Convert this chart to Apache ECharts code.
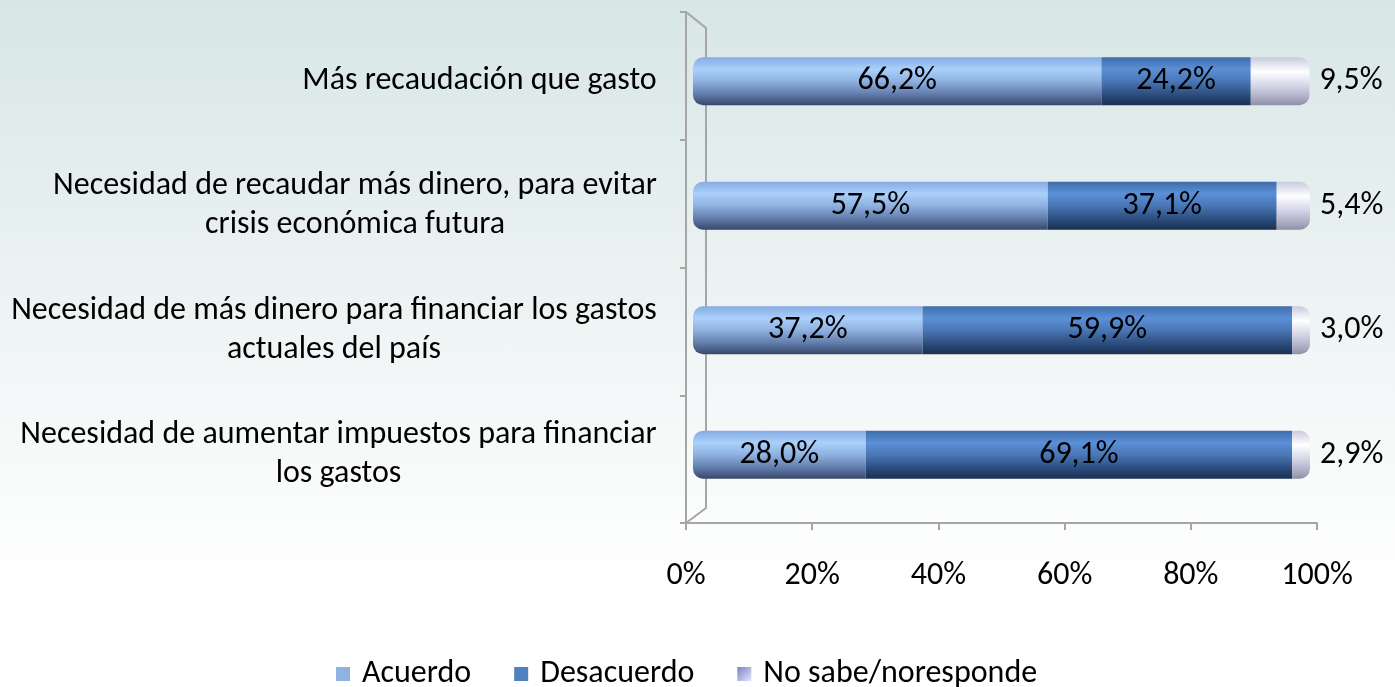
<!DOCTYPE html>
<html><head><meta charset="utf-8">
<script src="https://cdn.jsdelivr.net/npm/echarts@6/dist/echarts.min.js"></script>
<style>
html,body{margin:0;padding:0;}
body{background:linear-gradient(to bottom,#d8e6e6 0%,#e6efef 30%,#f5f8f8 60%,#ffffff 85%);}
#c{width:1395px;height:687px;}
</style></head>
<body><div id="c"></div>
<script>
const categories = [
  'Más recaudación que gasto',
  'Necesidad de recaudar más dinero, para evitar\ncrisis económica futura',
  'Necesidad de más dinero para financiar los gastos\nactuales del país',
  'Necesidad de aumentar impuestos para financiar\nlos gastos'
];
const acuerdo = [66.2, 57.5, 37.2, 28.0];
const desacuerdo = [24.2, 37.1, 59.9, 69.1];
const noSabe = [9.5, 5.4, 3.0, 2.9];
const seriesNames = ['Acuerdo', 'Desacuerdo', 'No sabe/noresponde'];
const xTicks = [0, 20, 40, 60, 80, 100];

const FONT = "Carlito, 'Open Sans', sans-serif";
const FS = 32;
const fmt = v => v.toFixed(1).replace('.', ',') + '%';
const vgrad = (stops) => new echarts.graphic.LinearGradient(0, 0, 0, 1, stops.map((c) => ({offset: c[0], color: c[1]})));

// measure widest line of each category so lines can be centred inside a right-aligned block
const cv = document.createElement('canvas').getContext('2d');
cv.font = FS + 'px ' + FONT;
const rich = {};
categories.forEach((c, i) => {
  const w = Math.ceil(Math.max(...c.split('\n').map(l => cv.measureText(l).width)));
  rich['c' + i] = {width: w, align: 'center', fontSize: FS, lineHeight: 39, color: '#000', fontFamily: FONT};
});

const cAcuerdo = vgrad([[0,'#85abe3'],[0.25,'#aad0fb'],[0.5,'#8fb1e0'],[0.78,'#5f7aa8'],[1,'#374868']]);
const cDes = vgrad([[0,'#3f6daa'],[0.25,'#5b8fd7'],[0.5,'#4a77b6'],[0.8,'#2a4a7a'],[1,'#1b2f50']]);
const cNo = vgrad([[0,'#c9cade'],[0.3,'#ffffff'],[0.6,'#d4d4e8'],[0.9,'#a2a2ba'],[1,'#8e8ea6']]);

const chart = echarts.init(document.getElementById('c'), null, {renderer: 'canvas'});
chart.setOption({
  backgroundColor: 'transparent',
  animation: false,
  textStyle: {fontFamily: FONT},
  grid: [
    {left: 693, right: 85, top: 19, height: 498, containLabel: false},
    {left: 686, right: 78, top: 12, height: 511, containLabel: false}
  ],
  legend: {
    top: 658, left: 336, itemWidth: 14, itemHeight: 14, itemGap: 43, icon: 'rect', padding: 0,
    textStyle: {fontSize: FS, color: '#000', fontFamily: FONT, padding: [0, 0, 0, 7]},
    data: [
      {name: seriesNames[0], itemStyle: {color: '#8db3e2'}},
      {name: seriesNames[1], itemStyle: {color: '#4f81bd'}},
      {name: seriesNames[2], itemStyle: {color: new echarts.graphic.LinearGradient(0,0,1,1,[{offset:0,color:'#8080c0'},{offset:1,color:'#e0e6ff'}])}}
    ]
  },
  xAxis: [
    {gridIndex: 0, type: 'value', min: 0, max: 100, show: false},
    {gridIndex: 1, type: 'value', min: 0, max: 100, interval: 20,
      axisLine: {show: true, lineStyle: {color: '#a6a6a6', width: 2}},
      axisTick: {show: true, length: 7, lineStyle: {color: '#a6a6a6', width: 2}},
      splitLine: {show: false},
      axisLabel: {margin: 37, fontSize: FS, color: '#000', fontFamily: FONT, formatter: v => v + '%'}
    }
  ],
  yAxis: [
    {gridIndex: 0, type: 'category', data: categories, inverse: true,
      axisLine: {show: false}, axisTick: {show: false},
      axisLabel: {margin: 36, fontSize: FS, lineHeight: 39, color: '#000', align: 'right', fontFamily: FONT,
        rich: rich,
        formatter: (v, i) => v.split('\n').map(l => '{c' + i + '|' + l + '}').join('\n')}
    },
    {gridIndex: 1, type: 'category', data: categories, inverse: true,
      axisLine: {show: true, lineStyle: {color: '#a6a6a6', width: 2}},
      axisTick: {show: true, length: 6, lineStyle: {color: '#a6a6a6', width: 2}},
      axisLabel: {show: false}
    }
  ],
  graphic: [{
    type: 'polyline', silent: true, z: 1,
    shape: {points: [[686,12],[706,28],[706,508],[686,523]]},
    style: {stroke: '#a6a6a6', lineWidth: 2, fill: null}
  }],
  series: [
    {name: seriesNames[0], type: 'bar', stack: 's', xAxisIndex: 0, yAxisIndex: 0, barWidth: 48, data: acuerdo,
      itemStyle: {color: cAcuerdo, borderRadius: [10,0,0,10]},
      label: {show: true, position: 'inside', fontSize: FS, color: '#000', fontFamily: FONT, formatter: p => fmt(p.value)}},
    {name: seriesNames[1], type: 'bar', stack: 's', xAxisIndex: 0, yAxisIndex: 0, barWidth: 48, data: desacuerdo,
      itemStyle: {color: cDes},
      label: {show: true, position: 'inside', fontSize: FS, color: '#000', fontFamily: FONT, formatter: p => fmt(p.value)}},
    {name: seriesNames[2], type: 'bar', stack: 's', xAxisIndex: 0, yAxisIndex: 0, barWidth: 48, data: noSabe,
      itemStyle: {color: cNo, borderRadius: [0,10,10,0]},
      label: {show: true, position: 'right', distance: 10, fontSize: FS, color: '#000', fontFamily: FONT, formatter: p => fmt(p.value)}}
  ]
});
</script>
</body></html>
